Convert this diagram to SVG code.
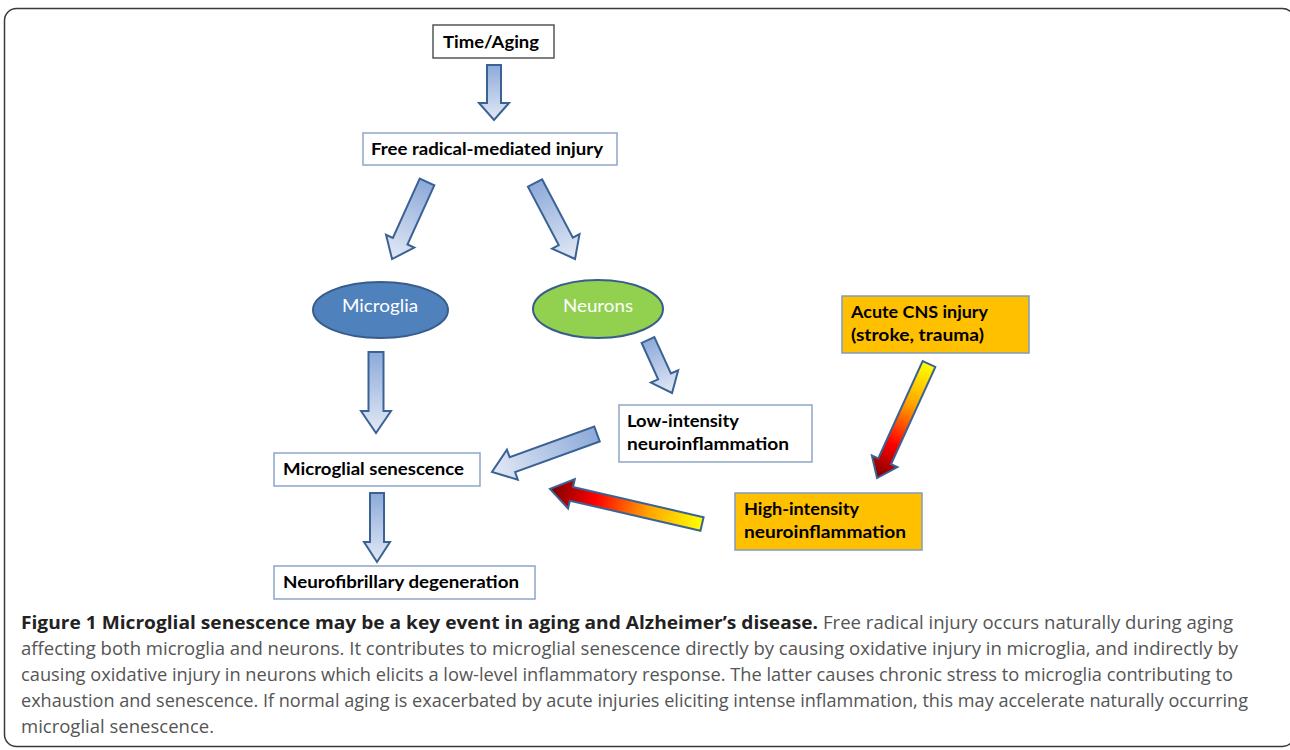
<svg xmlns="http://www.w3.org/2000/svg" width="1290" height="750" viewBox="0 0 1290 750">
<defs>
<linearGradient id="blue" x1="0" y1="0" x2="1" y2="0">
<stop offset="0" stop-color="#8daad9"/>
<stop offset="1" stop-color="#e2e9f5"/>
</linearGradient>
<linearGradient id="fire" x1="0" y1="0" x2="1" y2="0">
<stop offset="0" stop-color="#ffff00"/>
<stop offset="0.35" stop-color="#ffa500"/>
<stop offset="0.7" stop-color="#ff0000"/>
<stop offset="1" stop-color="#7a0000"/>
</linearGradient>
</defs>
<style>
.frame{fill:#fff;stroke:#3a3a3a;stroke-width:1.5}
.box{fill:#fff;stroke:#8ea5c8;stroke-width:1.5}
.boxg{fill:#fff;stroke:#555;stroke-width:1.5}
.obox{fill:#ffc000;stroke:#7f9bc0;stroke-width:1.5}
.lbl{font-family:Lato,"Liberation Sans",sans-serif;font-weight:700;font-size:17px;fill:#000}
.ell{font-family:Lato,"Liberation Sans",sans-serif;font-size:18px;fill:#fff}
.ab{fill:url(#blue);stroke:#3b6294;stroke-width:2;stroke-linejoin:miter}
.af{fill:url(#fire);stroke:#3b6294;stroke-width:2;stroke-linejoin:miter}
.cap{font-family:"Open Sans","Liberation Sans",sans-serif;font-size:18px;fill:#555}
.capb{font-family:"Open Sans","Liberation Sans",sans-serif;font-size:18px;font-weight:700;fill:#222}
</style>
<rect class="frame" x="4.5" y="8.5" width="1290" height="738" rx="12"/>

<g id="connectors">
<path class="ab" transform="translate(494,65) rotate(90)" d="M0,-7 L38,-7 L38,-15 L55,0 L38,15 L38,7 L0,7 Z"/>
<path class="ab" transform="translate(427,182) rotate(114.4)" d="M0,-8 L65,-8 L65,-15.5 L84.6,0 L65,15.5 L65,8 L0,8 Z"/>
<path class="ab" transform="translate(535,183) rotate(62.2)" d="M0,-8 L66,-8 L66,-15.5 L85.9,0 L66,15.5 L66,8 L0,8 Z"/>
<path class="ab" transform="translate(376,352) rotate(90)" d="M0,-7.5 L59,-7.5 L59,-15 L81,0 L59,15 L59,7.5 L0,7.5 Z"/>
<path class="ab" transform="translate(377,493) rotate(90)" d="M0,-7 L49,-7 L49,-13 L69,0 L49,13 L49,7 L0,7 Z"/>
<path class="ab" transform="translate(648,340) rotate(65.6)" d="M0,-7 L40,-7 L40,-15 L58.2,0 L40,15 L40,7 L0,7 Z"/>
<path class="ab" transform="translate(597,434) rotate(160.1)" d="M0,-8 L90,-8 L90,-16 L111.7,0 L90,16 L90,8 L0,8 Z"/>
<path class="af" transform="translate(929,364) rotate(114.5)" d="M0,-7 L107,-7 L107,-14 L125.3,0 L107,14 L107,7 L0,7 Z"/>
<path class="af" transform="translate(702,524) rotate(-167)" d="M0,-7 L134,-7 L134,-15 L156,0 L134,15 L134,7 L0,7 Z"/>
</g>

<g id="time-aging">
<rect class="boxg" x="433" y="25" width="121" height="33"/>
<text class="lbl" x="443" y="48" textLength="96" lengthAdjust="spacingAndGlyphs">Time/Aging</text>
</g>
<g id="free-radical">
<rect class="box" x="363" y="133" width="254" height="32"/>
<text class="lbl" x="371" y="155" textLength="232" lengthAdjust="spacingAndGlyphs">Free radical-mediated injury</text>
</g>
<g id="microglia">
<ellipse cx="380.5" cy="310" rx="67.5" ry="28" fill="#4f81bd" stroke="#385d8a" stroke-width="2"/>
<text class="ell" x="342" y="312" textLength="76" lengthAdjust="spacingAndGlyphs">Microglia</text>
</g>
<g id="neurons">
<ellipse cx="598" cy="309" rx="65" ry="29" fill="#92d050" stroke="#385d8a" stroke-width="2"/>
<text class="ell" x="563" y="312" textLength="70" lengthAdjust="spacingAndGlyphs">Neurons</text>
</g>
<g id="microglial-senescence">
<rect class="box" x="274" y="453" width="206" height="33"/>
<text class="lbl" x="283" y="475" textLength="181" lengthAdjust="spacingAndGlyphs">Microglial senescence</text>
</g>
<g id="neurofibrillary">
<rect class="box" x="274" y="566" width="261" height="33"/>
<text class="lbl" x="283" y="588" textLength="236" lengthAdjust="spacingAndGlyphs">Neurofibrillary degeneration</text>
</g>
<g id="low-intensity">
<rect class="box" x="619" y="405" width="193" height="57"/>
<text class="lbl" x="627" y="427" textLength="112" lengthAdjust="spacingAndGlyphs">Low-intensity</text>
<text class="lbl" x="627" y="450" textLength="162" lengthAdjust="spacingAndGlyphs">neuroinflammation</text>
</g>
<g id="acute-cns">
<rect class="obox" x="842" y="296" width="187" height="57"/>
<text class="lbl" x="851" y="318" textLength="137" lengthAdjust="spacingAndGlyphs">Acute CNS injury</text>
<text class="lbl" x="851" y="341" textLength="133" lengthAdjust="spacingAndGlyphs">(stroke, trauma)</text>
</g>
<g id="high-intensity">
<rect class="obox" x="735" y="493" width="187" height="57"/>
<text class="lbl" x="744" y="515" textLength="115" lengthAdjust="spacingAndGlyphs">High-intensity</text>
<text class="lbl" x="744" y="538" textLength="162" lengthAdjust="spacingAndGlyphs">neuroinflammation</text>
</g>

<g id="caption">
<text class="capb" x="21" y="629" textLength="797" lengthAdjust="spacingAndGlyphs">Figure 1 Microglial senescence may be a key event in aging and Alzheimer’s disease.</text>
<text class="cap" x="823" y="629" textLength="410" lengthAdjust="spacingAndGlyphs">Free radical injury occurs naturally during aging</text>
<text class="cap" x="21" y="655" textLength="1217" lengthAdjust="spacingAndGlyphs">affecting both microglia and neurons. It contributes to microglial senescence directly by causing oxidative injury in microglia, and indirectly by</text>
<text class="cap" x="21" y="681" textLength="1212" lengthAdjust="spacingAndGlyphs">causing oxidative injury in neurons which elicits a low-level inflammatory response. The latter causes chronic stress to microglia contributing to</text>
<text class="cap" x="21" y="707" textLength="1227" lengthAdjust="spacingAndGlyphs">exhaustion and senescence. If normal aging is exacerbated by acute injuries eliciting intense inflammation, this may accelerate naturally occurring</text>
<text class="cap" x="21" y="733" textLength="193" lengthAdjust="spacingAndGlyphs">microglial senescence.</text>
</g>
</svg>
